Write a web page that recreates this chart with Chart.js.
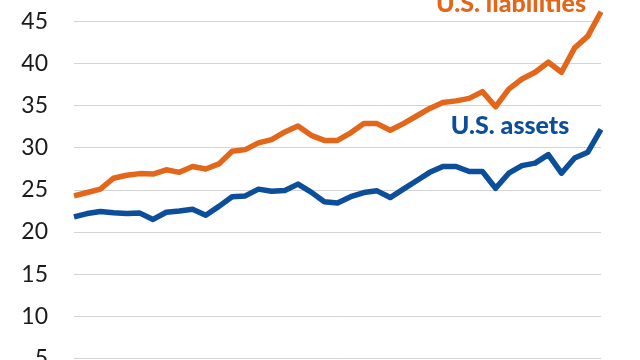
<!DOCTYPE html>
<html>
<head>
<meta charset="utf-8">
<script src="https://cdn.jsdelivr.net/npm/chart.js@4"></script>
<style>
  html, body { margin: 0; padding: 0; background: #ffffff; overflow: hidden; width: 640px; height: 360px; }
  #wrap { position: absolute; left: 0; top: -60px; width: 640px; height: 500px; }
</style>
</head>
<body>
<div id="wrap"><canvas id="c" width="640" height="500"></canvas></div>
<script>
const periods = Array.from({length: 41}, (_, i) => String(i + 1));
const liabilities = [24.3, 24.7, 25.1, 26.4, 26.75, 26.95, 26.9, 27.4, 27.1, 27.8,
  27.5, 28.1, 29.6, 29.8, 30.6, 31.0, 31.9, 32.6, 31.5, 30.9,
  30.9, 31.8, 32.9, 32.9, 32.1, 32.9, 33.8, 34.7, 35.4, 35.6,
  35.9, 36.7, 34.9, 37.0, 38.2, 39.0, 40.2, 39.0, 41.9, 43.3, 46.2];
const assets = [21.8, 22.2, 22.45, 22.3, 22.2, 22.25, 21.5, 22.35, 22.5, 22.7,
  22.0, 23.05, 24.2, 24.3, 25.1, 24.85, 24.95, 25.7, 24.75, 23.6,
  23.45, 24.2, 24.7, 24.9, 24.1, 25.1, 26.1, 27.1, 27.8, 27.8,
  27.2, 27.2, 25.2, 27.0, 27.9, 28.2, 29.2, 27.0, 28.8, 29.5, 32.2];
const seriesNames = ["U.S. liabilities", "U.S. assets"];
const yTicks = [0, 5, 10, 15, 20, 25, 30, 35, 40, 45, 50];

const ORANGE = "#E2671B";
const BLUE = "#0C4E9A";
const FONT = "Lato, 'Open Sans', sans-serif";

const labelPlugin = {
  id: "seriesLabels",
  afterDatasetsDraw(chart) {
    const ctx = chart.ctx;
    ctx.save();
    ctx.font = "900 25px " + FONT;
    ctx.textAlign = "center";
    ctx.textBaseline = "alphabetic";
    ctx.fillStyle = ORANGE;
    ctx.fillText(seriesNames[0], 511, 72);
    ctx.fillStyle = BLUE;
    ctx.fillText(seriesNames[1], 510, 194);
    ctx.restore();
  }
};

new Chart(document.getElementById("c"), {
  type: "line",
  data: {
    labels: periods,
    datasets: [
      { label: seriesNames[0], data: liabilities, borderColor: ORANGE, borderWidth: 5.5,
        pointRadius: 0, tension: 0, fill: false, borderJoinStyle: "round", borderCapStyle: "butt" },
      { label: seriesNames[1], data: assets, borderColor: BLUE, borderWidth: 5.5,
        pointRadius: 0, tension: 0, fill: false, borderJoinStyle: "round", borderCapStyle: "butt" }
    ]
  },
  options: {
    responsive: false,
    animation: false,
    layout: { padding: { top: 36, bottom: 36, left: 0, right: 39 } },
    plugins: { legend: { display: false }, tooltip: { enabled: false } },
    scales: {
      x: { display: false, offset: false },
      y: {
        min: 0, max: 50,
        afterBuildTicks(scale) { scale.ticks = yTicks.map(v => ({ value: v })); },
        afterFit(scale) { scale.width = 74; },
        border: { display: false },
        grid: { color: "#d4d4d4", lineWidth: 1, drawTicks: false },
        ticks: { padding: 26, color: "#1a1a1a", font: { family: FONT, size: 23 } }
      }
    }
  },
  plugins: [labelPlugin]
});
</script>
</body>
</html>
